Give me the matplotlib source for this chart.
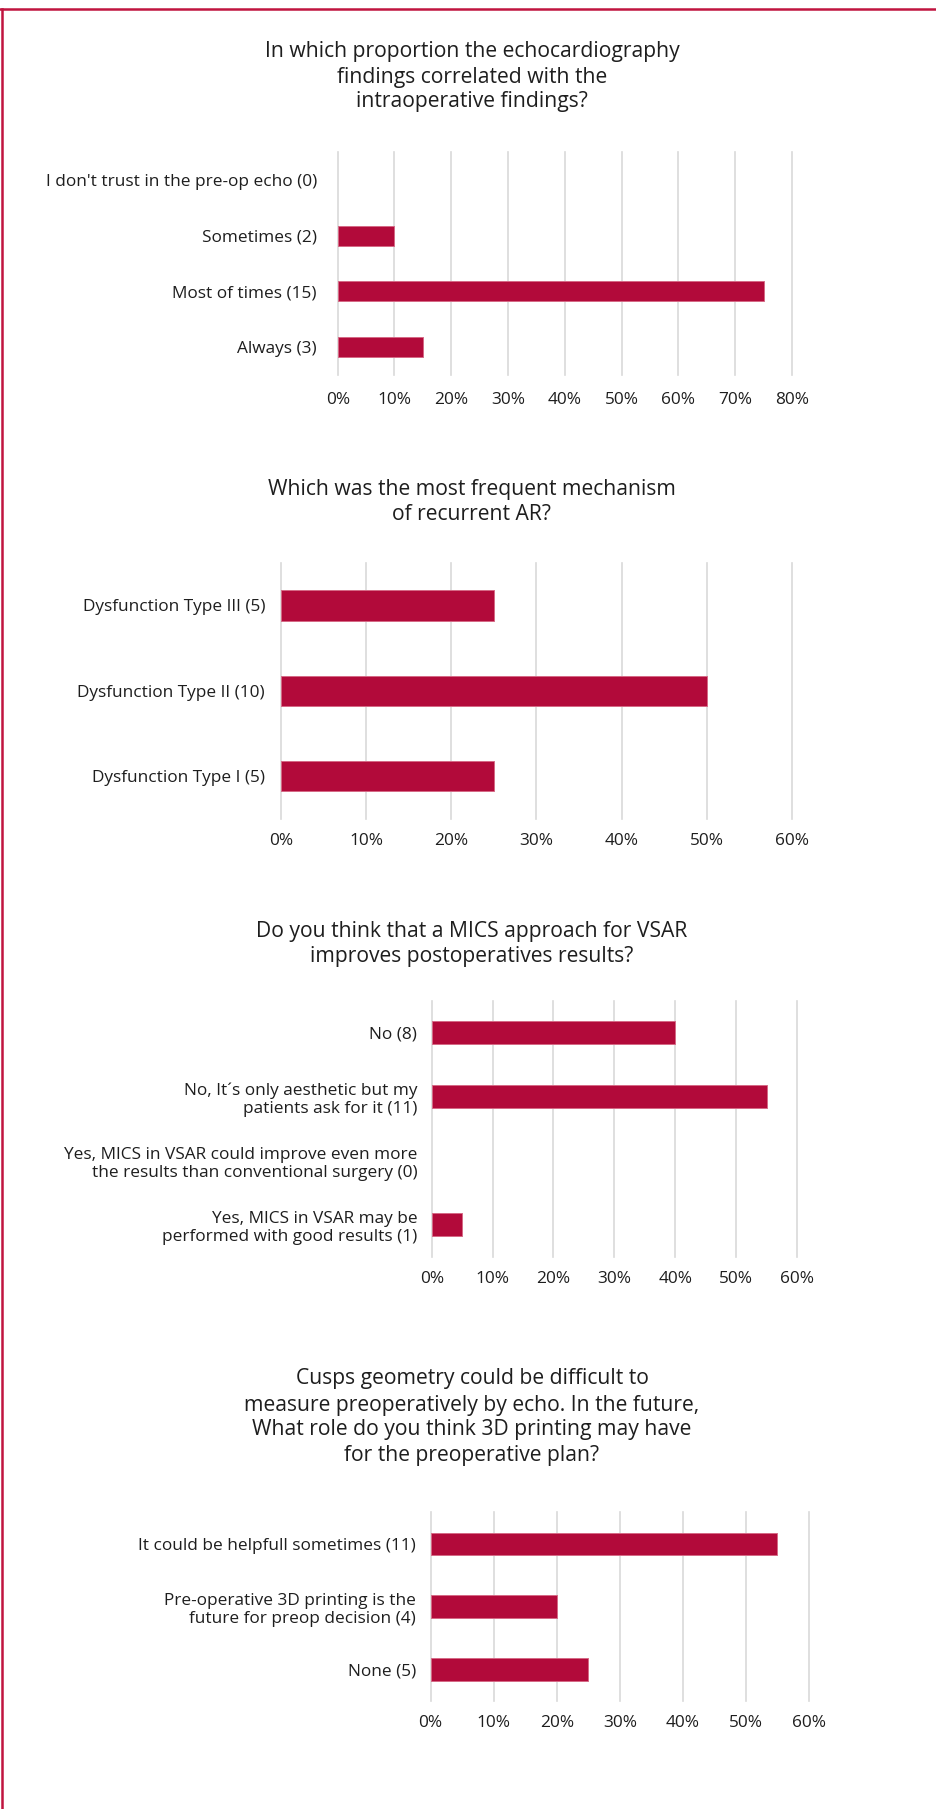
import numpy as np
import matplotlib
matplotlib.use("Agg")
import matplotlib.pyplot as plt
from matplotlib.lines import Line2D
from matplotlib.ticker import FuncFormatter

# ---------------- data ----------------
q1_title = "In which proportion the echocardiography\nfindings correlated with the\nintraoperative findings?"
q1_categories = ["I don't trust in the pre-op echo (0)", "Sometimes (2)", "Most of times (15)", "Always (3)"]
q1_values = [0, 10, 75, 15]
q1_max = 80

q2_title = "Which was the most frequent mechanism\nof recurrent AR?"
q2_categories = ["Dysfunction Type III (5)", "Dysfunction Type II (10)", "Dysfunction Type I (5)"]
q2_values = [25, 50, 25]
q2_max = 60

q3_title = "Do you think that a MICS approach for VSAR\nimproves postoperatives results?"
q3_categories = ["No (8)",
                 "No, It\u00b4s only aesthetic but my\npatients ask for it (11)",
                 "Yes, MICS in VSAR could improve even more\nthe results than conventional surgery (0)",
                 "Yes, MICS in VSAR may be\nperformed with good results (1)"]
q3_values = [40, 55, 0, 5]
q3_max = 60

q4_title = ("Cusps geometry could be difficult to\nmeasure preoperatively by echo. In the future,\n"
            "What role do you think 3D printing may have\nfor the preoperative plan?")
q4_categories = ["It could be helpfull sometimes (11)",
                 "Pre-operative 3D printing is the\nfuture for preop decision (4)",
                 "None (5)"]
q4_values = [55, 20, 25]
q4_max = 60

# ---------------- style ----------------
plt.rcParams["font.family"] = ["Open Sans", "DejaVu Sans"]
BAR = "#B20A3A"
EDGE = "#D56A86"
GRID = "#D9D9D9"
TEXT = "#1E1E1E"
BORDER = "#C0143F"

W, H = 937, 1809
fig = plt.figure(figsize=(W / 100, H / 100), dpi=100)
fig.patch.set_facecolor("white")


def add_chart(title, title_ys, cats, vals, xmax, box, ypad, xpad):
    x0, x1, ytop, ybot = box
    ax = fig.add_axes([x0 / W, 1 - ybot / H, (x1 - x0) / W, (ybot - ytop) / H])
    y = np.arange(len(cats))
    lws = [0.7 if v > 0 else 0 for v in vals]
    ax.barh(y, vals, height=0.355, color=BAR, edgecolor=EDGE, linewidth=lws, zorder=3)
    ax.set_ylim(len(cats) - 0.5, -0.5)
    ax.set_xlim(0, xmax)
    ax.set_xticks(np.arange(0, xmax + 1, 10))
    ax.xaxis.set_major_formatter(FuncFormatter(lambda v, p: f"{v:.0f}%"))
    ax.set_yticks(y)
    ax.set_yticklabels(cats)
    ax.grid(axis="x", color=GRID, linewidth=1.2, zorder=0)
    ax.set_axisbelow(True)
    for gl in ax.get_xgridlines():
        gl.set_clip_on(False)
    for s in ax.spines.values():
        s.set_visible(False)
    ax.tick_params(length=0, labelsize=12.4, colors=TEXT)
    ax.tick_params(axis="y", pad=ypad)
    ax.tick_params(axis="x", pad=xpad)
    for line, yc in zip(title.split("\n"), title_ys):
        fig.text(472 / W, 1 - yc / H, line, ha="center", va="center",
                 fontsize=15.2, color=TEXT)
    return ax


add_chart(q1_title, [52, 77, 102], q1_categories, q1_values, q1_max,
          (337.7, 792.1, 152, 375), 15, 12)
add_chart(q2_title, [490, 515], q2_categories, q2_values, q2_max,
          (281, 792, 562.7, 819), 11.5, 10)
add_chart(q3_title, [931.7, 956.7], q3_categories, q3_values, q3_max,
          (431.7, 797, 1000.7, 1256.7), 10.4, 10)
add_chart(q4_title, [1378.3, 1405, 1430, 1455.7], q4_categories, q4_values, q4_max,
          (430.6, 809, 1512.3, 1701), 10.4, 10)

# frame (top and left edges)
fig.add_artist(Line2D([0, 1], [1 - 8.7 / H, 1 - 8.7 / H], transform=fig.transFigure,
                      color=BORDER, linewidth=1.8))
fig.add_artist(Line2D([2.2 / W, 2.2 / W], [0, 1 - 8.7 / H], transform=fig.transFigure,
                      color=BORDER, linewidth=1.8))

fig.savefig("out.png", dpi=100, facecolor="white")
